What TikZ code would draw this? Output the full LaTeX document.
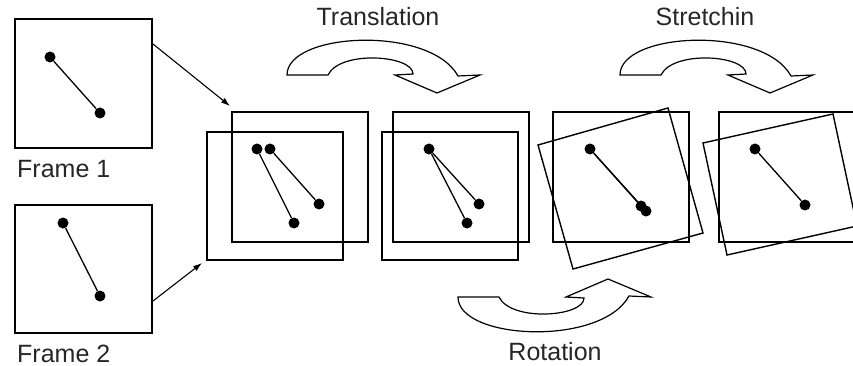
\documentclass[tikz,border=0pt]{standalone}
\usepackage{fontspec}
\setmainfont{Liberation Sans}
\usetikzlibrary{arrows.meta,calc}

% outline of the thick curved arrow, tail at the origin, head to the right
\def\bigturnpath{(0,0) .. controls (0,-43) and (143,-50) .. (171,1)
      -- (193,0) -- (150,18) -- (108,0) -- (126,-1)
      .. controls (126,-20) and (53,-25) .. (41,0) -- cycle}

\tikzset{
  framebox/.style={draw, line width=2pt, inner sep=0pt,
                   minimum width=136pt, minimum height=130pt},
  stick/.style={line width=1.3pt},
  dot/.style={circle, fill, inner sep=0pt, minimum size=11pt},
  tilted/.style={line width=1.4pt, line join=miter},
  feed/.style={line width=1.1pt, -{Latex[length=9pt,width=6pt]}},
  turn/.style={line width=1.2pt, fill=white, line join=miter},
  caption/.style={font=\fontsize{25}{30}\selectfont, text=black!85, inner sep=0pt}
}

\begin{document}
\begin{tikzpicture}[x=1pt, y=-1pt]
  \clip (0,0) rectangle (853,366);

  % input frames
  \node[framebox, minimum width=137pt, minimum height=129pt] (f1) at (83.5,83.5) {};
  \node[framebox, minimum width=137pt, minimum height=128pt] (f2) at (83.5,269) {};
  \node[caption, anchor=base west] (l1) at (17,178) {Frame 1};
  \node[caption, anchor=base west] (l2) at (17,362) {Frame 2};

  % overlaid frame pairs
  \node[framebox] (p1back)  at (300,177) {};
  \node[framebox, minimum height=128pt] (p1front) at (275,196) {};
  \node[framebox] (p2back)  at (461,177) {};
  \node[framebox, minimum height=128pt] (p2front) at (450,196) {};
  \node[framebox] (p3) at (621,177) {};
  \node[framebox] (p4) at (786.5,177) {};

  % rotated and stretched copies
  \draw[tilted] (538,145) -- (668,108) -- (703,233) -- (573,269) -- cycle;
  \draw[tilted] (703,143) -- (833,114) -- (857,226) -- (727,255) -- cycle;

  % feeding arrows
  \coordinate (t1) at ($(p1back.north west)+(-1,-5)$);
  \coordinate (t2) at ($(p1front.south west)+(-4,2)$);
  \draw[feed] ($(f1.north east)+(0,26)$) -- (t1);
  \draw[feed] ($(f2.south east)+(0,-33)$) -- (t2);

  % dots
  \node[dot] (a1) at (50,57) {};
  \node[dot] (a2) at (100,113) {};
  \node[dot] (b1) at (63,223) {};
  \node[dot] (b2) at (100,296) {};

  \node[dot] (c1) at (257,149) {};
  \node[dot] (c2) at (294,223) {};
  \node[dot] (c3) at (270,149) {};
  \node[dot] (c4) at (319,204) {};

  \node[dot] (d1) at (429,149) {};
  \node[dot] (d2) at (467,223) {};
  \node[dot] (d3) at (479,204) {};

  \node[dot] (e1) at (590,149) {};
  \node[dot] (e2) at (641,206) {};
  \node[dot] (e3) at (646,211) {};

  \node[dot] (g1) at (755,149) {};
  \node[dot] (g2) at (805,205) {};

  % sticks
  \draw[stick] (a1) -- (a2);
  \draw[stick] (b1) -- (b2);
  \draw[stick] (c1) -- (c2);
  \draw[stick] (c3) -- (c4);
  \draw[stick] (d1) -- (d2);
  \draw[stick] (d1) -- (d3);
  \draw[stick] (e1) -- (e2);
  \draw[stick] (e1) -- (e3);
  \draw[stick] (g1) -- (g2);

  % step arrows with their labels
  \draw[turn, shift={(287,75)}] \bigturnpath;
  \draw[turn, shift={(620,75)}] \bigturnpath;
  \draw[turn, shift={(458,297)}, yscale=-1] \bigturnpath;
  \node[caption, anchor=base] (ltr) at (378,26) {Translation};
  \node[caption, anchor=base] (lst) at (705,26) {Stretchin};
  \node[caption, anchor=base] (lro) at (555,360) {Rotation};
\end{tikzpicture}
\end{document}
